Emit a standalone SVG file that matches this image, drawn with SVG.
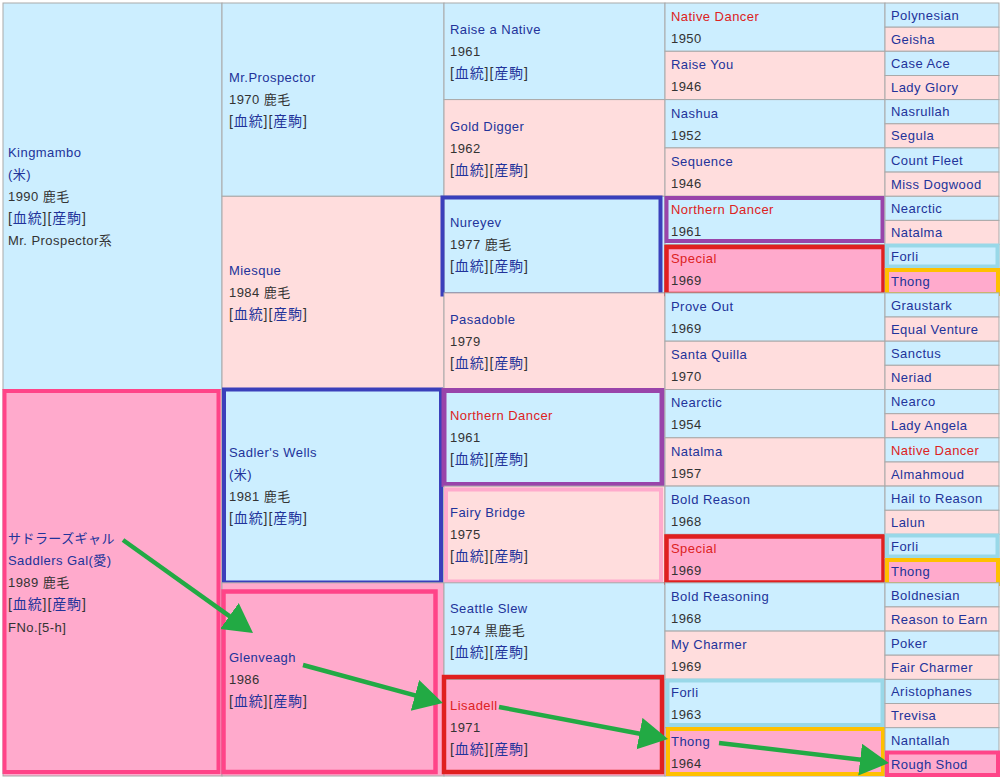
<svg xmlns="http://www.w3.org/2000/svg" width="1000" height="780" viewBox="0 0 1000 780">
<style>
rect.b{fill:#cceeff;stroke:#a9a9a9;stroke-width:1}
rect.p{fill:#ffdddd;stroke:#a9a9a9;stroke-width:1}
rect.h{fill:#ffaacc;stroke:#a9a9a9;stroke-width:1}
rect.o{fill:none}
text{font-family:"Liberation Sans","Noto Sans CJK JP",sans-serif;font-size:13px;letter-spacing:0.45px;fill:#22339a}
text.r{fill:#dd2222}
text.t,tspan.t{fill:#333333}
text.k{font-size:14px;letter-spacing:0.9px}
.arrow{stroke:#22aa44;stroke-width:4.5;fill:none;marker-end:url(#ah)}
</style>
<defs>
<marker id="ah" markerUnits="userSpaceOnUse" markerWidth="34" markerHeight="34" refX="22" refY="16" orient="auto" viewBox="0 0 34 34">
<path d="M0,0 L29,16 L0,32 Z" fill="#22aa44"/>
</marker>
</defs>
<rect x="0" y="0" width="1000" height="780" fill="#ffffff"/>

<!-- Generation 1 -->
<g id="kingmambo"><rect class="b" x="3" y="3" width="219" height="386.5"/>
<text x="8" y="157">Kingmambo</text><text x="8" y="179">(米)</text><text class="t" x="8" y="201">1990 鹿毛</text>
<text class="k" x="8" y="223"><tspan class="t">[</tspan>血統<tspan class="t">][</tspan>産駒<tspan class="t">]</tspan></text>
<text class="t" x="8" y="245">Mr. Prospector系</text></g>
<g id="saddlers-gal"><rect class="h" x="3" y="389.5" width="219" height="386.5"/>
<rect class="o" x="4.5" y="391" width="214" height="381" stroke="#ff4488" stroke-width="4"/>
<text x="8" y="543">サドラーズギャル</text><text x="8" y="565">Saddlers Gal(愛)</text><text class="t" x="8" y="587">1989 鹿毛</text>
<text class="k" x="8" y="609"><tspan class="t">[</tspan>血統<tspan class="t">][</tspan>産駒<tspan class="t">]</tspan></text>
<text class="t" x="8" y="632">FNo.[5-h]</text></g>

<!-- Generation 2 -->
<g id="mr-prospector"><rect class="b" x="222" y="3" width="222" height="193.3"/>
<text x="229" y="82">Mr.Prospector</text><text class="t" x="229" y="104">1970 鹿毛</text>
<text class="k" x="229" y="126"><tspan class="t">[</tspan>血統<tspan class="t">][</tspan>産駒<tspan class="t">]</tspan></text></g>
<g id="miesque"><rect class="p" x="222" y="196.3" width="222" height="193.2"/>
<text x="229" y="275">Miesque</text><text class="t" x="229" y="297">1984 鹿毛</text>
<text class="k" x="229" y="319"><tspan class="t">[</tspan>血統<tspan class="t">][</tspan>産駒<tspan class="t">]</tspan></text></g>
<g id="sadlers-wells"><rect class="b" x="222" y="389.5" width="222" height="193.3"/>
<rect class="o" x="224" y="389.5" width="217" height="193" stroke="#3a3fbb" stroke-width="4"/>
<text x="229" y="457">Sadler's Wells</text><text x="229" y="479">(米)</text><text class="t" x="229" y="501">1981 鹿毛</text>
<text class="k" x="229" y="523"><tspan class="t">[</tspan>血統<tspan class="t">][</tspan>産駒<tspan class="t">]</tspan></text></g>
<g id="glenveagh"><rect class="h" x="222" y="582.8" width="222" height="193.2"/>
<rect class="o" x="223.5" y="591.5" width="212" height="180.5" stroke="#ff4488" stroke-width="4.5"/>
<text x="229" y="662">Glenveagh</text><text class="t" x="229" y="684">1986</text>
<text class="k" x="229" y="706"><tspan class="t">[</tspan>血統<tspan class="t">][</tspan>産駒<tspan class="t">]</tspan></text></g>

<!-- Generation 3 -->
<g id="raise-a-native"><rect class="b" x="444" y="3" width="221" height="96.6"/>
<text x="450" y="34">Raise a Native</text><text class="t" x="450" y="56">1961</text>
<text class="k" x="450" y="78"><tspan class="t">[</tspan>血統<tspan class="t">][</tspan>産駒<tspan class="t">]</tspan></text></g>
<g id="gold-digger"><rect class="p" x="444" y="99.6" width="221" height="96.7"/>
<text x="450" y="131">Gold Digger</text><text class="t" x="450" y="153">1962</text>
<text class="k" x="450" y="175"><tspan class="t">[</tspan>血統<tspan class="t">][</tspan>産駒<tspan class="t">]</tspan></text></g>
<g id="nureyev"><rect class="b" x="444" y="196.3" width="221" height="96.6"/>
<rect class="o" x="442.5" y="197.5" width="218" height="97" stroke="#3a3fbb" stroke-width="4"/>
<text x="450" y="227">Nureyev</text><text class="t" x="450" y="249">1977 鹿毛</text>
<text class="k" x="450" y="271"><tspan class="t">[</tspan>血統<tspan class="t">][</tspan>産駒<tspan class="t">]</tspan></text></g>
<g id="pasadoble"><rect class="p" x="444" y="292.9" width="221" height="96.6"/>
<text x="450" y="324">Pasadoble</text><text class="t" x="450" y="346">1979</text>
<text class="k" x="450" y="368"><tspan class="t">[</tspan>血統<tspan class="t">][</tspan>産駒<tspan class="t">]</tspan></text></g>
<g id="northern-dancer-3"><rect class="b" x="444" y="389.5" width="221" height="96.6"/>
<rect class="o" x="444" y="390.5" width="218" height="94" stroke="#9944aa" stroke-width="5"/>
<text class="r" x="450" y="420">Northern Dancer</text><text class="t" x="450" y="442">1961</text>
<text class="k" x="450" y="464"><tspan class="t">[</tspan>血統<tspan class="t">][</tspan>産駒<tspan class="t">]</tspan></text></g>
<g id="fairy-bridge"><rect class="p" x="444" y="486.1" width="221" height="96.7"/>
<rect class="o" x="446" y="489.5" width="215" height="92" stroke="#ffaacc" stroke-width="4"/>
<text x="450" y="517">Fairy Bridge</text><text class="t" x="450" y="539">1975</text>
<text class="k" x="450" y="561"><tspan class="t">[</tspan>血統<tspan class="t">][</tspan>産駒<tspan class="t">]</tspan></text></g>
<g id="seattle-slew"><rect class="b" x="444" y="582.8" width="221" height="96.6"/>
<text x="450" y="613">Seattle Slew</text><text class="t" x="450" y="635">1974 黒鹿毛</text>
<text class="k" x="450" y="657"><tspan class="t">[</tspan>血統<tspan class="t">][</tspan>産駒<tspan class="t">]</tspan></text></g>
<g id="lisadell"><rect class="h" x="444" y="679.4" width="221" height="96.6"/>
<rect class="o" x="444" y="677" width="218" height="95" stroke="#e02020" stroke-width="4.5"/>
<text class="r" x="450" y="710">Lisadell</text><text class="t" x="450" y="732">1971</text>
<text class="k" x="450" y="754"><tspan class="t">[</tspan>血統<tspan class="t">][</tspan>産駒<tspan class="t">]</tspan></text></g>

<!-- Generation 4 -->
<g id="native-dancer-4"><rect class="b" x="665" y="3" width="220" height="48.3"/><text class="r" x="671" y="21">Native Dancer</text><text class="t" x="671" y="43">1950</text></g>
<g id="raise-you"><rect class="p" x="665" y="51.3" width="220" height="48.3"/><text x="671" y="69">Raise You</text><text class="t" x="671" y="91">1946</text></g>
<g id="nashua"><rect class="b" x="665" y="99.6" width="220" height="48.3"/><text x="671" y="118">Nashua</text><text class="t" x="671" y="140">1952</text></g>
<g id="sequence"><rect class="p" x="665" y="147.9" width="220" height="48.4"/><text x="671" y="166">Sequence</text><text class="t" x="671" y="188">1946</text></g>
<g id="northern-dancer-4"><rect class="b" x="665" y="196.3" width="220" height="48.3"/>
<rect class="o" x="666.5" y="198" width="216" height="43" stroke="#9944aa" stroke-width="4"/>
<text class="r" x="671" y="214">Northern Dancer</text><text class="t" x="671" y="236">1961</text></g>
<g id="special-1"><rect class="h" x="665" y="244.6" width="220" height="48.3"/>
<rect class="o" x="666.5" y="247" width="217" height="47" stroke="#e02020" stroke-width="4.5"/>
<text class="r" x="671" y="263">Special</text><text class="t" x="671" y="285">1969</text></g>
<g id="prove-out"><rect class="b" x="665" y="292.9" width="220" height="48.3"/><text x="671" y="311">Prove Out</text><text class="t" x="671" y="333">1969</text></g>
<g id="santa-quilla"><rect class="p" x="665" y="341.2" width="220" height="48.3"/><text x="671" y="359">Santa Quilla</text><text class="t" x="671" y="381">1970</text></g>
<g id="nearctic-4"><rect class="b" x="665" y="389.5" width="220" height="48.3"/><text x="671" y="407">Nearctic</text><text class="t" x="671" y="429">1954</text></g>
<g id="natalma-4"><rect class="p" x="665" y="437.8" width="220" height="48.3"/><text x="671" y="456">Natalma</text><text class="t" x="671" y="478">1957</text></g>
<g id="bold-reason"><rect class="b" x="665" y="486.1" width="220" height="48.3"/><text x="671" y="504">Bold Reason</text><text class="t" x="671" y="526">1968</text></g>
<g id="special-2"><rect class="h" x="665" y="534.4" width="220" height="48.4"/>
<rect class="o" x="666.5" y="536.5" width="217" height="46" stroke="#e02020" stroke-width="4.5"/>
<text class="r" x="671" y="553">Special</text><text class="t" x="671" y="575">1969</text></g>
<g id="bold-reasoning"><rect class="b" x="665" y="582.8" width="220" height="48.3"/><text x="671" y="601">Bold Reasoning</text><text class="t" x="671" y="623">1968</text></g>
<g id="my-charmer"><rect class="p" x="665" y="631.1" width="220" height="48.3"/><text x="671" y="649">My Charmer</text><text class="t" x="671" y="671">1969</text></g>
<g id="forli-4"><rect class="b" x="665" y="679.4" width="220" height="48.3"/>
<rect class="o" x="667.5" y="680.5" width="215" height="44.5" stroke="#99d8e8" stroke-width="4"/>
<text x="671" y="697">Forli</text><text class="t" x="671" y="719">1963</text></g>
<g id="thong-4"><rect class="h" x="665" y="727.7" width="220" height="48.3"/>
<rect class="o" x="668" y="729" width="215" height="45" stroke="#ffc000" stroke-width="4"/>
<text x="671" y="746">Thong</text><text class="t" x="671" y="768">1964</text></g>

<!-- Generation 5 -->
<g id="g5">
<g id="polynesian"><rect class="b" x="885" y="3" width="114" height="24.2"/><text x="891" y="20">Polynesian</text></g>
<g id="geisha"><rect class="p" x="885" y="27.2" width="114" height="24.1"/><text x="891" y="44">Geisha</text></g>
<g id="case-ace"><rect class="b" x="885" y="51.3" width="114" height="24.2"/><text x="891" y="68">Case Ace</text></g>
<g id="lady-glory"><rect class="p" x="885" y="75.5" width="114" height="24.1"/><text x="891" y="92">Lady Glory</text></g>
<g id="nasrullah"><rect class="b" x="885" y="99.6" width="114" height="24.2"/><text x="891" y="116">Nasrullah</text></g>
<g id="segula"><rect class="p" x="885" y="123.8" width="114" height="24.1"/><text x="891" y="140">Segula</text></g>
<g id="count-fleet"><rect class="b" x="885" y="147.9" width="114" height="24.2"/><text x="891" y="165">Count Fleet</text></g>
<g id="miss-dogwood"><rect class="p" x="885" y="172.1" width="114" height="24.2"/><text x="891" y="189">Miss Dogwood</text></g>
<g id="nearctic-5a"><rect class="b" x="885" y="196.3" width="114" height="24.1"/><text x="891" y="213">Nearctic</text></g>
<g id="natalma-5a"><rect class="p" x="885" y="220.4" width="114" height="24.2"/><text x="891" y="237">Natalma</text></g>
<g id="forli-5a"><rect class="b" x="885" y="244.6" width="114" height="24.1"/>
<rect class="o" x="887" y="245.5" width="110.5" height="21" stroke="#99d8e8" stroke-width="4"/><text x="891" y="261">Forli</text></g>
<g id="thong-5a"><rect class="h" x="885" y="268.7" width="114" height="24.2"/>
<rect class="o" x="887" y="270" width="111" height="24" stroke="#ffc000" stroke-width="4"/><text x="891" y="286">Thong</text></g>
<g id="graustark"><rect class="b" x="885" y="292.9" width="114" height="24.1"/><text x="891" y="310">Graustark</text></g>
<g id="equal-venture"><rect class="p" x="885" y="317" width="114" height="24.2"/><text x="891" y="334">Equal Venture</text></g>
<g id="sanctus"><rect class="b" x="885" y="341.2" width="114" height="24.1"/><text x="891" y="358">Sanctus</text></g>
<g id="neriad"><rect class="p" x="885" y="365.3" width="114" height="24.2"/><text x="891" y="382">Neriad</text></g>
<g id="nearco"><rect class="b" x="885" y="389.5" width="114" height="24.2"/><text x="891" y="406">Nearco</text></g>
<g id="lady-angela"><rect class="p" x="885" y="413.7" width="114" height="24.1"/><text x="891" y="430">Lady Angela</text></g>
<g id="native-dancer-5"><rect class="b" x="885" y="437.8" width="114" height="24.2"/><text class="r" x="891" y="455">Native Dancer</text></g>
<g id="almahmoud"><rect class="p" x="885" y="462" width="114" height="24.1"/><text x="891" y="479">Almahmoud</text></g>
<g id="hail-to-reason"><rect class="b" x="885" y="486.1" width="114" height="24.2"/><text x="891" y="503">Hail to Reason</text></g>
<g id="lalun"><rect class="p" x="885" y="510.3" width="114" height="24.1"/><text x="891" y="527">Lalun</text></g>
<g id="forli-5b"><rect class="b" x="885" y="534.4" width="114" height="24.2"/>
<rect class="o" x="887" y="535.5" width="110.5" height="21" stroke="#99d8e8" stroke-width="4"/><text x="891" y="551">Forli</text></g>
<g id="thong-5b"><rect class="h" x="885" y="558.6" width="114" height="24.2"/>
<rect class="o" x="887" y="560" width="111" height="24" stroke="#ffc000" stroke-width="4"/><text x="891" y="576">Thong</text></g>
<g id="boldnesian"><rect class="b" x="885" y="582.8" width="114" height="24.1"/><text x="891" y="600">Boldnesian</text></g>
<g id="reason-to-earn"><rect class="p" x="885" y="606.9" width="114" height="24.2"/><text x="891" y="624">Reason to Earn</text></g>
<g id="poker"><rect class="b" x="885" y="631.1" width="114" height="24.1"/><text x="891" y="648">Poker</text></g>
<g id="fair-charmer"><rect class="p" x="885" y="655.2" width="114" height="24.2"/><text x="891" y="672">Fair Charmer</text></g>
<g id="aristophanes"><rect class="b" x="885" y="679.4" width="114" height="24.1"/><text x="891" y="696">Aristophanes</text></g>
<g id="trevisa"><rect class="p" x="885" y="703.5" width="114" height="24.2"/><text x="891" y="720">Trevisa</text></g>
<g id="nantallah"><rect class="b" x="885" y="727.7" width="114" height="24.1"/><text x="891" y="745">Nantallah</text></g>
<g id="rough-shod"><rect class="h" x="885" y="751.8" width="114" height="24.2"/>
<rect class="o" x="887" y="752.5" width="111" height="22.5" stroke="#ff4488" stroke-width="4"/><text x="891" y="769">Rough Shod</text></g>
</g>

<g id="connectors">
<line class="arrow" x1="123" y1="540" x2="247.3" y2="628.9"/>
<line class="arrow" x1="303" y1="665" x2="436.2" y2="701.2"/>
<line class="arrow" x1="499" y1="707" x2="661.1" y2="737.7"/>
<line class="arrow" x1="719" y1="743" x2="882" y2="762.2"/>
</g>
</svg>
